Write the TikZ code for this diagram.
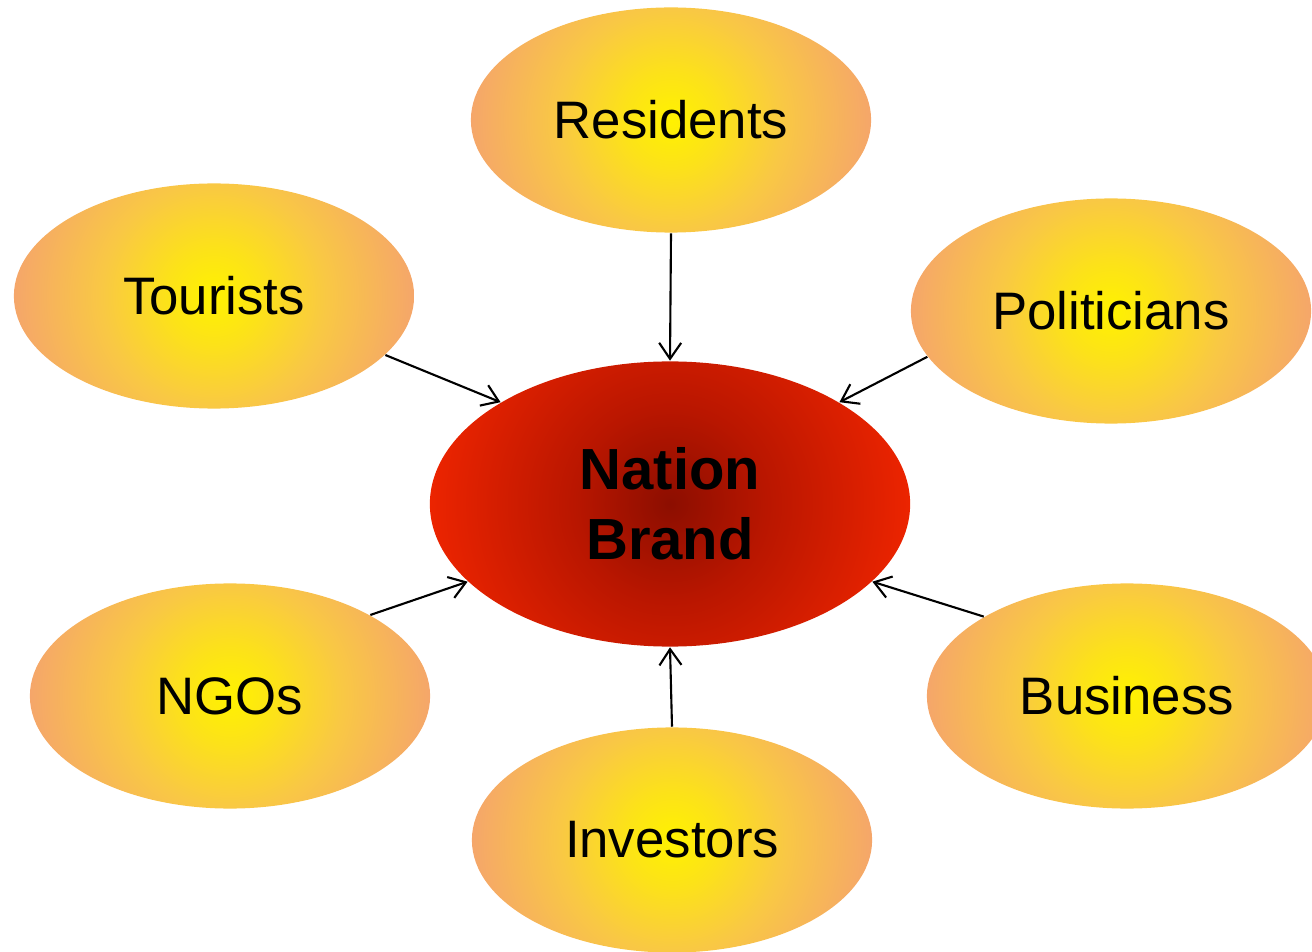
\documentclass[tikz,border=0pt]{standalone}
\usepackage{fontspec}
\setmainfont{Liberation Sans}
\usepackage{xcolor}
\usepackage{tikz}
\usetikzlibrary{arrows.meta,shapes.geometric}

\definecolor{glowA}{RGB}{255,242,0}
\definecolor{glowB}{RGB}{252,226,25}
\definecolor{glowC}{RGB}{249,200,68}
\definecolor{glowD}{RGB}{245,166,106}
\definecolor{coreA}{RGB}{140,14,0}
\definecolor{coreB}{RGB}{185,22,0}
\definecolor{coreC}{RGB}{236,36,0}

\pgfdeclareradialshading{goldglow}{\pgfpoint{0bp}{0bp}}{%
  color(0bp)=(glowA); color(6bp)=(glowB); color(14bp)=(glowC);
  color(25bp)=(glowD); color(50bp)=(glowD)}
\pgfdeclareradialshading{redcore}{\pgfpoint{0bp}{0bp}}{%
  color(0bp)=(coreA); color(10bp)=(coreB);
  color(25bp)=(coreC); color(50bp)=(coreC)}

\tikzset{
  >={Straight Barb[length=1.6mm,width=2.2mm]},
  group/.style={ellipse, inner sep=0pt, minimum width=4cm, minimum height=2.25cm,
    font=\fontsize{15}{18}\selectfont,
    path picture={\shade[shading=goldglow] (path picture bounding box.center) circle (2cm);}},
  brand/.style={ellipse, inner sep=0pt, minimum width=4.8cm, minimum height=2.85cm,
    align=center, font=\fontsize{16.5}{19.9}\selectfont\bfseries,
    path picture={\shade[shading=redcore] (path picture bounding box.center) circle (2.4cm);}},
  link/.style={->, line width=0.6pt},
}

\begin{document}
\begin{tikzpicture}[x=0.01cm, y=-0.01cm]
  \useasboundingbox (0,0) rectangle (1312,952);

  \node[brand] (nb) at (670,504) {Nation\\Brand};

  \node[group] (res) at (671,120) {Residents};
  \node[group] (tour) at (214,296) {Tourists};
  \node[group] (pol) at (1111,311) {Politicians};
  \node[group] (ngo) at (230,696) {NGOs};
  \node[group] (bus) at (1127,696) {Business};
  \node[group] (inv) at (672,840) {Investors};

  \draw[link] (res.south) -- (nb.north);
  \draw[link] (tour.-19) -- (nb.149);
  \draw[link] (pol.194) -- (nb.31);
  \draw[link] (ngo.30) -- (nb.201);
  \draw[link] (bus.151) -- (nb.-21);
  \draw[link] (inv.north) -- (nb.south);
\end{tikzpicture}
\end{document}
